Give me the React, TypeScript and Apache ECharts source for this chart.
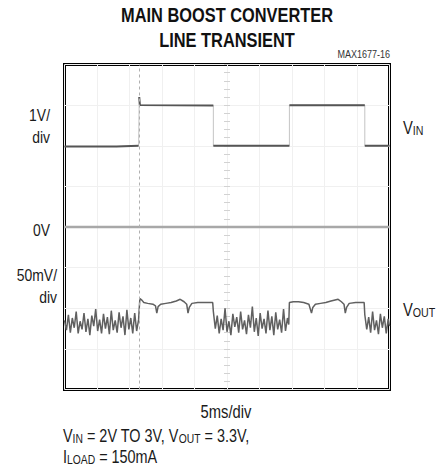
import React, { useEffect, useRef } from "react";
import * as echarts from "echarts";

// ---- data (oscilloscope trace readings) ----
// VIN trace: time (ms) and volts, 1V/div, 0V at screen centre
const vinTime = [0, 8.0, 11.4, 11.5, 11.5, 11.6, 22.9, 22.9, 34.6, 34.6, 46.2, 46.2, 50];
const vinVolts = [1.98, 1.98, 2.0, 2.0, 3.2, 3.0, 2.99, 2.0, 2.0, 3.0, 3.0, 2.0, 2.0];

// VOUT trace (AC coupled): time (ms) and deviation (mV), 50mV/div
const voutTime = [
  0.0, 0.3, 0.6, 0.9, 1.2, 1.5, 1.8, 2.1, 2.4, 2.7, 3.0, 3.3, 3.6, 3.9, 4.2, 4.5, 4.8, 5.1, 5.4, 5.7,
  6.0, 6.3, 6.6, 6.9, 7.2, 7.5, 7.8, 8.1, 8.4, 8.7, 9.0, 9.3, 9.6, 9.9, 10.2, 10.5, 10.8, 11.1, 11.4,
  11.5, 11.6, 11.9, 12.2, 12.8, 13.6, 14.0, 14.2, 14.4, 14.8, 15.6, 16.4, 17.2, 17.8, 18.4, 18.8, 19.0,
  19.2, 19.6, 20.5, 21.5, 22.8,
  22.9, 23.2, 23.5, 23.8, 24.1, 24.4, 24.7, 25.0, 25.3, 25.6, 25.9, 26.2, 26.5, 26.8, 27.1, 27.4, 27.7,
  28.0, 28.3, 28.6, 28.9, 29.2, 29.5, 29.8, 30.1, 30.4, 30.7, 31.0, 31.3, 31.6, 31.9, 32.2, 32.5, 32.8,
  33.1, 33.4, 33.7, 34.0, 34.3, 34.5,
  34.6, 35.2, 36.0, 36.8, 37.6, 38.0, 38.2, 38.6, 39.4, 40.2, 41.0, 42.1, 42.6, 43.0, 43.2, 43.4, 43.8,
  44.8, 46.1,
  46.2, 46.5, 46.8, 47.1, 47.4, 47.7, 48.0, 48.3, 48.6, 48.9, 49.2, 49.5, 49.8, 50.0,
];
const voutMv = [
  -115, -127, -108, -130, -112, -124, -104, -131, -116, -126, -106, -129, -113, -133, -109, -122, -101, -128, -114, -131,
  -107, -125, -111, -132, -103, -127, -115, -130, -105, -124, -110, -133, -102, -126, -112, -131, -106, -128, -114,
  -100, -88, -90, -93, -94, -95, -97, -106, -98, -95, -94, -93, -91, -89, -92, -95, -106,
  -99, -94, -93, -93, -93,
  -104, -125, -109, -131, -113, -127, -100, -129, -116, -133, -107, -123, -111, -130, -104, -126, -115,
  -132, -108, -124, -98, -129, -112, -134, -106, -125, -113, -131, -103, -127, -110, -133, -105, -126,
  -114, -130, -101, -128, -112, -120,
  -93, -92, -92, -93, -95, -106, -99, -95, -94, -93, -91, -89, -92, -95, -106, -99, -94,
  -93, -93,
  -108, -126, -111, -130, -104, -127, -115, -132, -107, -124, -110, -131, -113, -122,
];

const triggerTime = [11.5];
const zeroLevel = [0];

const titleLines = ["MAIN BOOST CONVERTER", "LINE TRANSIENT"];
const figureId = "MAX1677-16";
const timeScale = "5ms/div";

const FONT = "'Liberation Sans', Arial, sans-serif";
const NARROW = 0.82;

export default function App() {
  const ref = useRef<HTMLDivElement>(null);
  useEffect(() => {
    if (!ref.current) return;
    const chart = echarts.init(ref.current, undefined, { renderer: "svg" });

    const vinPath = vinTime.map((t, i) => [t, vinVolts[i]]);
    const vinLevels: any[] = [];
    vinTime.forEach((t, i) => {
      if (i > 0 && vinTime[i - 1] === t) vinLevels.push([t, null]);
      vinLevels.push([t, vinVolts[i]]);
    });
    const vout = voutTime.map((t, i) => [t, voutMv[i]]);

    const txt = (text: string, x: number, y: number, opts: any = {}) => ({
      type: "text",
      silent: true,
      x,
      y,
      scaleX: NARROW,
      style: {
        text,
        align: opts.align || "left",
        verticalAlign: "middle",
        fontSize: opts.fontSize || 17,
        fontWeight: opts.fontWeight || "normal",
        fontFamily: FONT,
        fill: opts.fill || "#1a1a1a",
        rich: opts.rich,
      },
    });
    const subRich = (main: number, sub: number) => ({
      m: { fontSize: main, fontFamily: FONT, fill: "#1a1a1a", lineHeight: main + 2 },
      s: { fontSize: sub, fontFamily: FONT, fill: "#1a1a1a", lineHeight: sub - 2, verticalAlign: "bottom" },
    });

    chart.setOption({
      animation: false,
      backgroundColor: "#fff",
      grid: {
        left: 64.5,
        top: 64.5,
        width: 325,
        height: 325,
        show: true,
        borderColor: "#000",
        borderWidth: 3,
        backgroundColor: "#fff",
      },
      xAxis: [
        {
          type: "value",
          min: 0,
          max: 50,
          interval: 5,
          axisLine: { show: false },
          axisTick: { show: false },
          axisLabel: { show: false },
          splitLine: { show: true, lineStyle: { color: "#f0f0f0", width: 1 } },
        },
      ],
      yAxis: [
        {
          type: "value",
          min: -4,
          max: 4,
          interval: 1,
          axisLine: { show: false },
          axisTick: { show: false },
          axisLabel: { show: false },
          splitLine: { show: true, lineStyle: { color: "#f0f0f0", width: 1 } },
        },
        {
          type: "value",
          min: -200,
          max: 200,
          interval: 50,
          show: false,
          splitLine: { show: false },
        },
        {
          type: "value",
          min: -4,
          max: 4,
          interval: 1,
          position: "left",
          offset: -165.5,
          axisLine: { show: false },
          axisTick: { show: true, length: 6, lineStyle: { color: "#d2d2d2" } },
          minorTick: { show: true, splitNumber: 5, length: 6, lineStyle: { color: "#d2d2d2" } },
          axisLabel: { show: false },
          splitLine: { show: false },
        },
      ],
      series: [
        {
          type: "line",
          name: "0V",
          yAxisIndex: 0,
          data: [
            [0, zeroLevel[0]],
            [50, zeroLevel[0]],
          ],
          symbol: "none",
          lineStyle: { color: "#a8a8a8", width: 2.5 },
          markLine: {
            silent: true,
            symbol: "none",
            label: { show: false },
            lineStyle: { color: "#b0b0b0", type: [3, 3], width: 1 },
            data: triggerTime.map((t) => ({ xAxis: t })),
          },
        },
        {
          type: "line",
          name: "VIN edges",
          data: vinPath,
          symbol: "none",
          lineStyle: { color: "#c4c4c4", width: 1 },
        },
        {
          type: "line",
          name: "VIN",
          data: vinLevels,
          connectNulls: false,
          symbol: "none",
          lineStyle: { color: "#555", width: 2 },
        },
        {
          type: "line",
          name: "VOUT",
          yAxisIndex: 1,
          data: vout,
          symbol: "none",
          lineStyle: { color: "#606060", width: 1.5 },
        },
      ],
      graphic: [
        txt(titleLines[0], 227, 14.5, { align: "center", fontSize: 20, fontWeight: "bold", fill: "#111" }),
        txt(titleLines[1], 227, 39.5, { align: "center", fontSize: 20, fontWeight: "bold", fill: "#111" }),
        txt(figureId, 390, 54, { align: "right", fontSize: 11, fill: "#333" }),
        txt("1V/", 50, 115, { align: "right" }),
        txt("div", 50, 137, { align: "right" }),
        txt("0V", 50, 230, { align: "right" }),
        txt("50mV/", 57, 275, { align: "right" }),
        txt("div", 57, 297, { align: "right" }),
        txt("{m|V}{s|IN}", 403, 127, { rich: subRich(18, 13) }),
        txt("{m|V}{s|OUT}", 403, 309, { rich: subRich(18, 13) }),
        txt(timeScale, 226, 411.5, { align: "center", fontSize: 18 }),
        txt("{m|V}{s|IN}{m| = 2V TO 3V, V}{s|OUT}{m| = 3.3V,}", 63, 435, { rich: subRich(17.6, 12.6) }),
        txt("{m|I}{s|LOAD}{m| = 150mA}", 63, 456, { rich: subRich(17.6, 12.6) }),
      ],
    });
    return () => chart.dispose();
  }, []);
  return <div ref={ref} style={{ position: "fixed", left: 0, top: 0, width: 437, height: 469 }} />;
}
